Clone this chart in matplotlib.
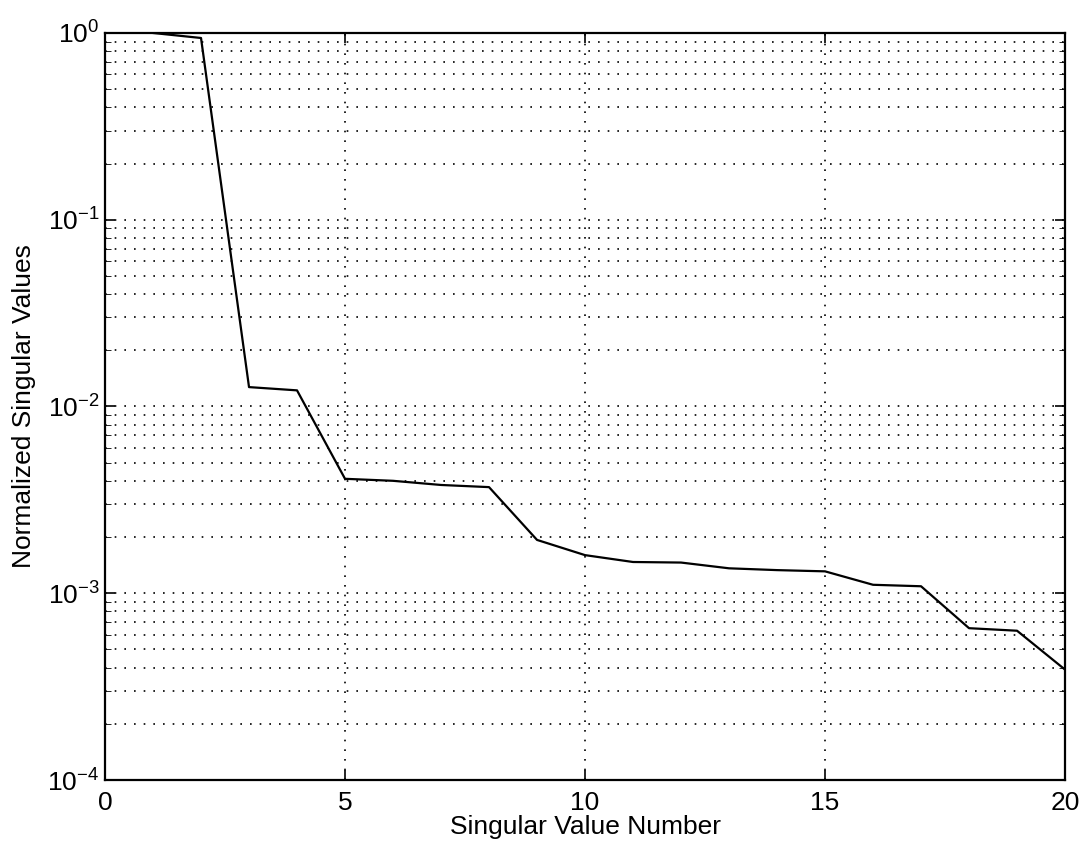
import matplotlib
matplotlib.use("Agg")
import matplotlib.pyplot as plt
from matplotlib.ticker import LogLocator, NullFormatter

plt.rcParams['font.family'] = ['Liberation Sans', 'DejaVu Sans']
plt.rcParams['mathtext.fontset'] = 'custom'
plt.rcParams['mathtext.rm'] = 'Liberation Sans'

# normalized singular values
sv_number = list(range(1, 21))
sv_values = [1.0, 0.94, 0.0127, 0.0122, 0.0041, 0.0040, 0.0038, 0.0037,
             0.00193, 0.0016, 0.00147, 0.00146, 0.00136, 0.00133, 0.00131,
             0.00111, 0.00109, 0.00065, 0.00063, 0.00039]

fig = plt.figure(figsize=(10.86, 8.52), dpi=100)
ax = fig.add_axes([0.0967, 0.0845, 0.9807 - 0.0967, 0.9613 - 0.0845])

ax.semilogy(sv_number, sv_values, color="black", lw=1.6)

ax.set_xlim(0, 20)
ax.set_ylim(1e-4, 1)
ax.set_xticks([0, 5, 10, 15, 20])
ax.yaxis.set_major_locator(LogLocator(base=10, numticks=10))
ax.yaxis.set_minor_locator(LogLocator(base=10, subs=range(2, 10), numticks=10))
ax.yaxis.set_minor_formatter(NullFormatter())

dots = (0, (1, 4.8))
ax.grid(True, which="major", ls=dots, color="black", lw=1.2)
ax.grid(True, which="minor", axis="y", ls=dots, color="black", lw=1.2)

ax.tick_params(which="both", direction="in", top=True, right=True, labelsize=19)
ax.tick_params(axis="x", pad=8)
ax.tick_params(axis="y", pad=4)
ax.tick_params(which="major", length=7, width=1.2)
ax.tick_params(which="minor", length=4)
for s in ax.spines.values():
    s.set_linewidth(1.6)

ax.set_xlabel("Singular Value Number", fontsize=19, labelpad=0)
ax.set_ylabel("Normalized Singular Values", fontsize=19, labelpad=8)

fig.savefig("out.png", dpi=100)
